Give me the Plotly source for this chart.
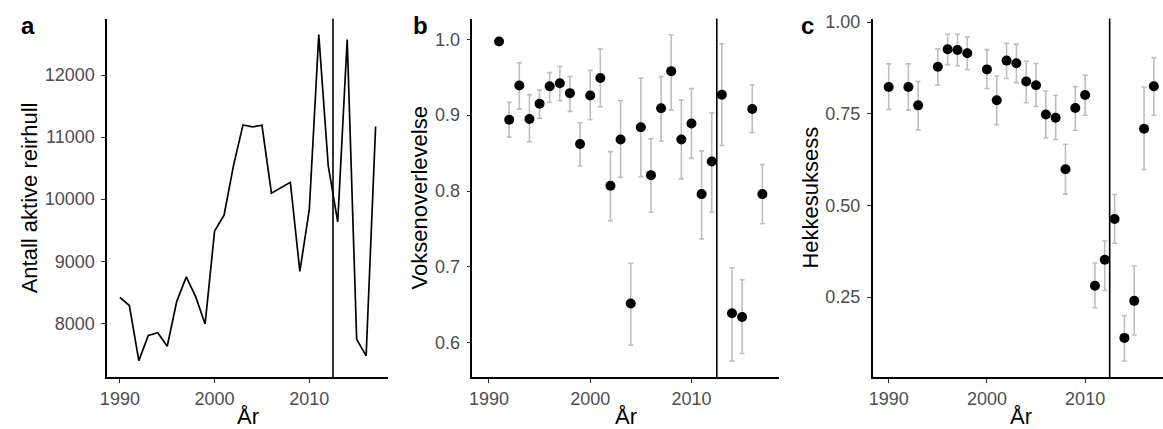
import plotly.graph_objects as go

# ---------------- data ----------------
years_a = list(range(1990, 2018))
active_nests = [8418, 8286, 7397, 7804, 7847, 7630, 8349, 8746, 8429, 7989,
                9487, 9741, 10545, 11196, 11164, 11190, 10095, 10185, 10270, 8836,
                9831, 12651, 10534, 9635, 12571, 7741, 7476, 11169]

years_b = list(range(1991, 2018))
adult_surv = [0.997, 0.894, 0.939, 0.895, 0.915, 0.938, 0.942, 0.929, 0.862, 0.926,
              0.949, 0.807, 0.868, 0.652, 0.884, 0.821, 0.909, 0.958, 0.868, 0.889,
              0.796, 0.839, 0.927, 0.639, 0.634, 0.908, 0.796]
surv_lower = [None, 0.871, 0.908, 0.865, 0.896, 0.917, 0.919, 0.905, 0.833, 0.894,
              0.911, 0.761, 0.818, 0.597, 0.819, 0.772, 0.866, 0.907, 0.816, 0.843,
              0.737, 0.772, 0.860, 0.576, 0.586, 0.877, 0.757]
surv_upper = [None, 0.917, 0.969, 0.927, 0.933, 0.956, 0.964, 0.951, 0.890, 0.959,
              0.987, 0.852, 0.919, 0.705, 0.949, 0.869, 0.951, 1.006, 0.920, 0.935,
              0.853, 0.903, 0.994, 0.699, 0.683, 0.940, 0.835]

years_c = [1990, 1992, 1993, 1995, 1996, 1997, 1998, 2000, 2001, 2002, 2003, 2004,
           2005, 2006, 2007, 2008, 2009, 2010, 2011, 2012, 2013, 2014, 2015, 2016, 2017]
breed_success = [0.823, 0.823, 0.773, 0.878, 0.926, 0.924, 0.915, 0.871, 0.787, 0.895,
                 0.888, 0.838, 0.828, 0.748, 0.739, 0.599, 0.766, 0.801, 0.281, 0.352,
                 0.463, 0.139, 0.240, 0.709, 0.825]
succ_lower = [0.762, 0.760, 0.706, 0.828, 0.884, 0.881, 0.870, 0.819, 0.720, 0.846,
              0.835, 0.780, 0.770, 0.684, 0.680, 0.531, 0.705, 0.746, 0.221, 0.268,
              0.397, 0.076, 0.147, 0.598, 0.746]
succ_upper = [0.886, 0.886, 0.838, 0.927, 0.967, 0.967, 0.959, 0.925, 0.853, 0.942,
              0.940, 0.893, 0.887, 0.812, 0.800, 0.667, 0.824, 0.855, 0.343, 0.403,
              0.530, 0.200, 0.335, 0.823, 0.903]

change_year = 2012.5

ticks_x = [1990, 2000, 2010]
ticks_a = [8000, 9000, 10000, 11000, 12000]
ticklabels_a = ["8000", "9000", "10000", "11000", "12000"]
ticks_b = [0.6, 0.7, 0.8, 0.9, 1.0]
ticklabels_b = ["0.6", "0.7", "0.8", "0.9", "1.0"]
ticks_c = [0.25, 0.50, 0.75, 1.00]
ticklabels_c = ["0.25", "0.50", "0.75", "1.00"]

# ---------------- figure ----------------
W, H = 1163, 429
FONT = "Liberation Sans, Arial, sans-serif"
ERR_COL = "#BEBEBE"

def px_x(p):
    return p / W

def px_y(p):
    return (H - p) / H

ydom = [px_y(376.7), px_y(12.7)]

fig = go.Figure()

# panel a
fig.add_trace(go.Scatter(x=years_a, y=active_nests, mode="lines",
                         line=dict(color="black", width=1.7),
                         xaxis="x", yaxis="y", showlegend=False))

def err_trace(xs, ys, lo, hi, xa, ya):
    ex, ey, ep, em = [], [], [], []
    for x, y, l, h in zip(xs, ys, lo, hi):
        if l is None or h is None:
            continue
        ex.append(x); ey.append(y); ep.append(h - y); em.append(y - l)
    return go.Scatter(x=ex, y=ey, mode="markers",
                      marker=dict(size=1, color="rgba(0,0,0,0)"),
                      error_y=dict(type="data", symmetric=False, array=ep, arrayminus=em,
                                   color=ERR_COL, thickness=1.6, width=2.5),
                      xaxis=xa, yaxis=ya, showlegend=False, hoverinfo="skip")

# panel b
fig.add_trace(err_trace(years_b, adult_surv, surv_lower, surv_upper, "x2", "y2"))
fig.add_trace(go.Scatter(x=years_b, y=adult_surv, mode="markers",
                         marker=dict(size=10, color="black"),
                         xaxis="x2", yaxis="y2", showlegend=False))
# panel c
fig.add_trace(err_trace(years_c, breed_success, succ_lower, succ_upper, "x3", "y3"))
fig.add_trace(go.Scatter(x=years_c, y=breed_success, mode="markers",
                         marker=dict(size=10, color="black"),
                         xaxis="x3", yaxis="y3", showlegend=False))

axis_common = dict(showline=True, linecolor="black", linewidth=1.6, mirror=False,
                   ticks="outside", ticklen=4, tickwidth=1.4, tickcolor="#333333",
                   showgrid=False, zeroline=False,
                   tickfont=dict(family=FONT, size=18, color="#4D4D4D"))
yaxis_extra = dict(ticklabelstandoff=3)

fig.update_layout(
    width=W, height=H,
    margin=dict(l=0, r=0, t=0, b=0),
    paper_bgcolor="white", plot_bgcolor="white",
    showlegend=False,
    font=dict(family=FONT),
    xaxis=dict(domain=[px_x(100.7), px_x(383.7)], range=[1988.65, 2018.35],
               tickvals=ticks_x, anchor="y", **axis_common),
    yaxis=dict(domain=ydom, range=[7127, 12910], tickvals=ticks_a,
               ticktext=ticklabels_a, anchor="x", **axis_common, **yaxis_extra),
    xaxis2=dict(domain=[px_x(468.3), px_x(776.5)], range=[1988.375, 2018.625],
                tickvals=ticks_x, anchor="y2", **axis_common),
    yaxis2=dict(domain=ydom, range=[0.5545, 1.0273], tickvals=ticks_b,
                ticktext=ticklabels_b, anchor="x2", **axis_common, **yaxis_extra),
    xaxis3=dict(domain=[px_x(871), 1.0], range=[1988.375, 1988.375 + 292 / 9.88],
                tickvals=ticks_x, anchor="y3", **axis_common),
    yaxis3=dict(domain=ydom, range=[0.0312, 1.0097], tickvals=ticks_c,
                ticktext=ticklabels_c, anchor="x3", **axis_common, **yaxis_extra),
)

for xa, ya in [("x", "y"), ("x2", "y2"), ("x3", "y3")]:
    fig.add_shape(type="line", xref=xa, yref=ya + " domain",
                  x0=change_year, x1=change_year, y0=0, y1=1,
                  line=dict(color="black", width=1.6), layer="above")

ann = []
# panel tags
for txt, xp in [("a", 11.7), ("b", 406.7), ("c", 796.7)]:
    ann.append(dict(text="<b>%s</b>" % txt, x=px_x(xp), y=px_y(19.5), xref="paper", yref="paper",
                    xanchor="left", yanchor="middle", showarrow=False,
                    font=dict(family=FONT, size=24, color="black")))
# y titles
for txt, xp in [("Antall aktive reirhull", 23.5), ("Voksenoverlevelse", 415),
                ("Hekkesuksess", 808.5)]:
    ann.append(dict(text=txt, x=px_x(xp), y=px_y(194.7), xref="paper", yref="paper",
                    xanchor="center", yanchor="middle", textangle=-90, showarrow=False,
                    font=dict(family=FONT, size=22, color="black")))
# x titles
for xp in [242.2, 622.4, 1020]:
    ann.append(dict(text="År", x=px_x(xp), y=px_y(416), xref="paper", yref="paper",
                    xanchor="center", yanchor="middle", showarrow=False,
                    font=dict(family=FONT, size=22, color="black")))
fig.update_layout(annotations=ann)

fig.write_html("out.html")
